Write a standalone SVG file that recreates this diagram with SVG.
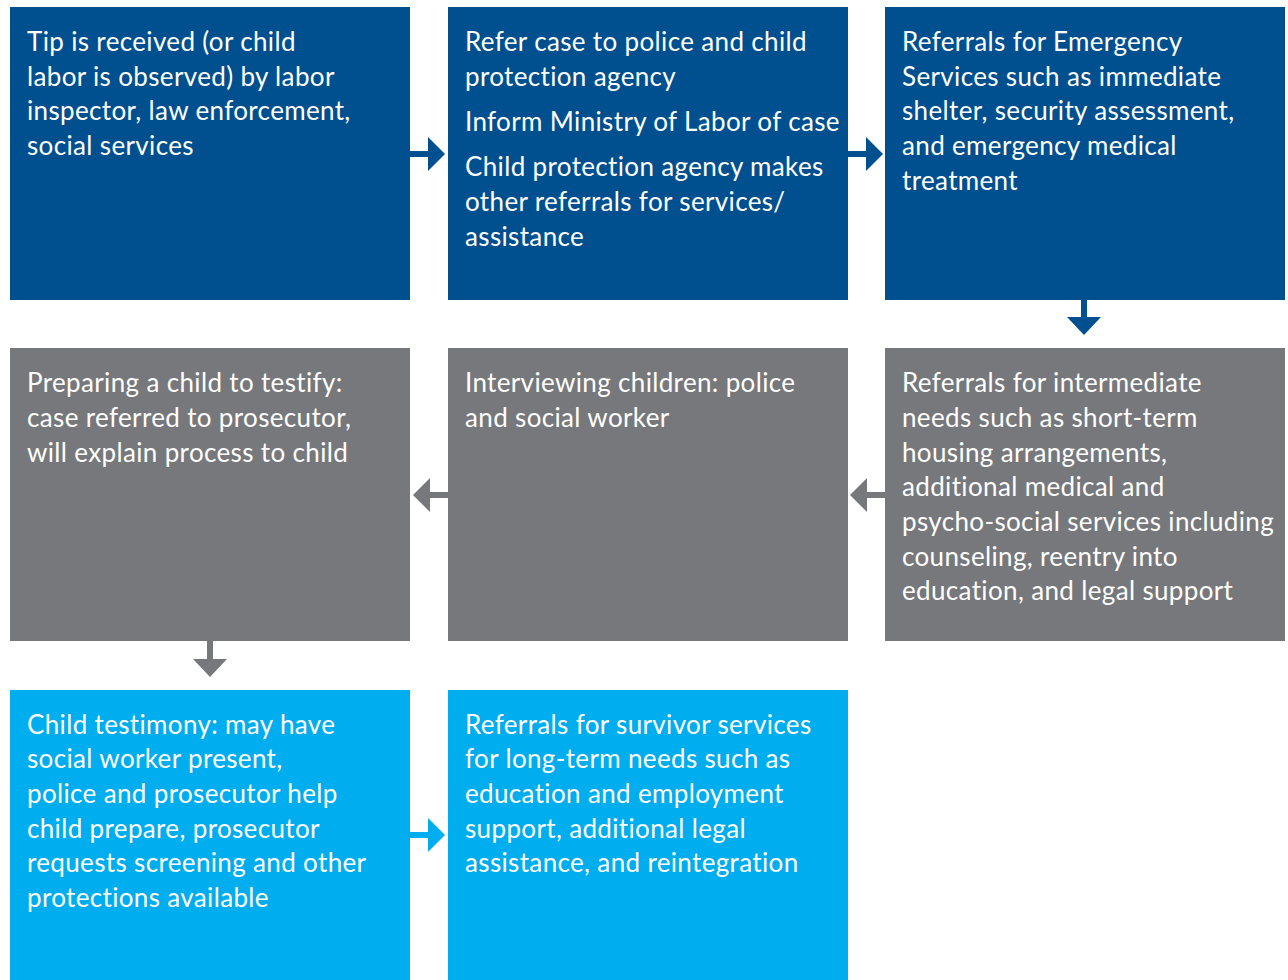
<svg xmlns="http://www.w3.org/2000/svg" width="1288" height="980" viewBox="0 0 1288 980">
<style>
.b{fill:#00508f}.g{fill:#76787b}.c{fill:#00adee}
text{font-family:Lato,"Noto Sans",sans-serif;font-size:26px;letter-spacing:0.35px;fill:#ffffff}
.ab{fill:#00508f}.ag{fill:#76787b}.ac{fill:#00adee}
</style>
<rect width="1288" height="980" fill="#ffffff"/>
<g id="n1"><rect class="b" x="10" y="7" width="400" height="293"/>
<text x="27" y="51">Tip is received (or child</text>
<text x="27" y="86">labor is observed) by labor</text>
<text x="27" y="120">inspector, law enforcement,</text>
<text x="27" y="155">social services</text></g>
<g id="n2"><rect class="b" x="448" y="7" width="400" height="293"/>
<text x="465" y="51">Refer case to police and child</text>
<text x="465" y="86">protection agency</text>
<text x="465" y="131">Inform Ministry of Labor of case</text>
<text x="465" y="176">Child protection agency makes</text>
<text x="465" y="211">other referrals for services/</text>
<text x="465" y="246">assistance</text></g>
<g id="n3"><rect class="b" x="885" y="7" width="400" height="293"/>
<text x="902" y="51">Referrals for Emergency</text>
<text x="902" y="86">Services such as immediate</text>
<text x="902" y="120">shelter, security assessment,</text>
<text x="902" y="155">and emergency medical</text>
<text x="902" y="190">treatment</text></g>
<g id="n4"><rect class="g" x="885" y="348" width="400" height="293"/>
<text x="902" y="392">Referrals for intermediate</text>
<text x="902" y="427">needs such as short-term</text>
<text x="902" y="462">housing arrangements,</text>
<text x="902" y="496">additional medical and</text>
<text x="902" y="531">psycho-social services including</text>
<text x="902" y="566">counseling, reentry into</text>
<text x="902" y="600">education, and legal support</text></g>
<g id="n5"><rect class="g" x="448" y="348" width="400" height="293"/>
<text x="465" y="392">Interviewing children: police</text>
<text x="465" y="427">and social worker</text></g>
<g id="n6"><rect class="g" x="10" y="348" width="400" height="293"/>
<text x="27" y="392">Preparing a child to testify:</text>
<text x="27" y="427">case referred to prosecutor,</text>
<text x="27" y="462">will explain process to child</text></g>
<g id="n7"><rect class="c" x="10" y="690" width="400" height="300"/>
<text x="27" y="734">Child testimony: may have</text>
<text x="27" y="768">social worker present,</text>
<text x="27" y="803">police and prosecutor help</text>
<text x="27" y="838">child prepare, prosecutor</text>
<text x="27" y="872">requests screening and other</text>
<text x="27" y="907">protections available</text></g>
<g id="n8"><rect class="c" x="448" y="690" width="400" height="300"/>
<text x="465" y="734">Referrals for survivor services</text>
<text x="465" y="768">for long-term needs such as</text>
<text x="465" y="803">education and employment</text>
<text x="465" y="838">support, additional legal</text>
<text x="465" y="872">assistance, and reintegration</text></g>
<g id="connectors">
<path class="ab" d="M410 151h18v-14l17 17l-17 17v-14h-18z"/>
<path class="ab" d="M848 151h18v-14l17 17l-17 17v-14h-18z"/>
<path class="ab" d="M1081 300v17h-14l17 18l17-18h-14v-17z"/>
<path class="ag" d="M885 492h-18v-14l-17 17l17 17v-14h18z"/>
<path class="ag" d="M448 492h-18v-14l-17 17l17 17v-14h18z"/>
<path class="ag" d="M207 641v18h-14l17 18l17-18h-14v-18z"/>
<path class="ac" d="M410 832h18v-14l17 17l-17 17v-14h-18z"/>
</g>
</svg>
